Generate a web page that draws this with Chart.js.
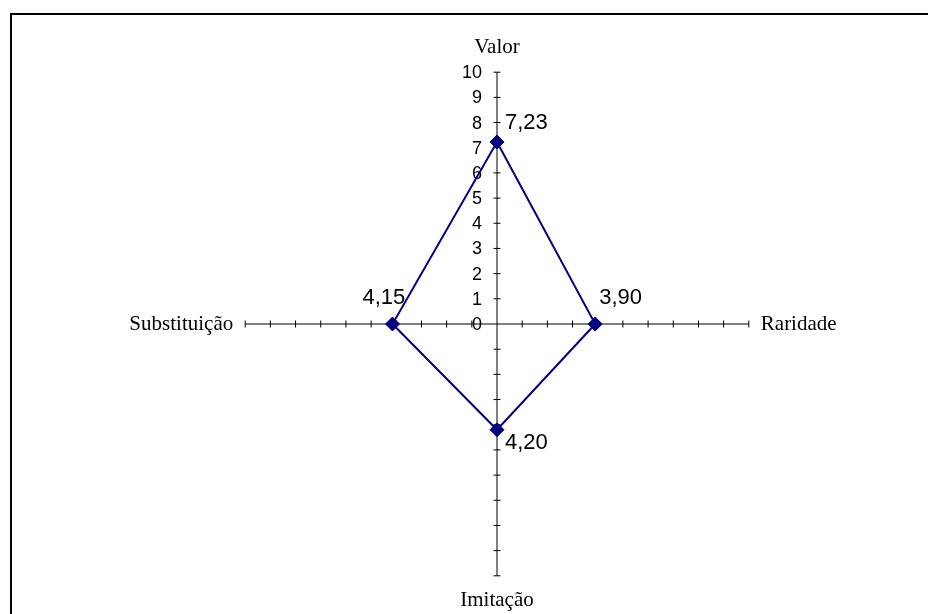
<!DOCTYPE html>
<html>
<head>
<meta charset="utf-8">
<script src="https://cdn.jsdelivr.net/npm/chart.js@4.4.1/dist/chart.umd.min.js"></script>
<style>
  html, body { margin: 0; padding: 0; background: #fff; overflow: hidden; }
  #frame { position: absolute; left: 10px; top: 13px; width: 1000px; height: 700px;
           border-left: 2px solid #000; border-top: 2px solid #000; }
  #chart { position: absolute; left: 0; top: 0; }
</style>
</head>
<body>
<div id="frame"></div>
<canvas id="chart" width="928" height="614"></canvas>
<script>
const axes = ['Valor', 'Raridade', 'Imitação', 'Substituição'];
const scores = [7.23, 3.90, 4.20, 4.15];
const tickValues = [0, 1, 2, 3, 4, 5, 6, 7, 8, 9, 10];

// where each value label sits relative to its point
const labelOffsets = [
  { dx: 8, dy: -19 },
  { dx: 4, dy: -26 },
  { dx: 8, dy: 13 },
  { dx: -30, dy: -26 }
];

const axisTicks = {
  id: 'axisTicks',
  beforeDatasetsDraw(chart) {
    const scale = chart.scales.r;
    const ctx = chart.ctx;
    ctx.save();
    ctx.strokeStyle = '#000';
    ctx.lineWidth = 1;
    for (let i = 0; i < axes.length; i++) {
      const a = scale.getIndexAngle(i) - Math.PI / 2;
      const px = -Math.sin(a), py = Math.cos(a);
      tickValues.forEach(v => {
        if (v === 0) return;
        const p = scale.getPointPosition(i, scale.getDistanceFromCenterForValue(v));
        ctx.beginPath();
        ctx.moveTo(p.x - px * 3.5, p.y - py * 3.5);
        ctx.lineTo(p.x + px * 3.5, p.y + py * 3.5);
        ctx.stroke();
      });
    }
    ctx.fillStyle = '#000';
    ctx.font = '18px "Liberation Sans", Arial, sans-serif';
    ctx.textAlign = 'right';
    ctx.textBaseline = 'middle';
    tickValues.forEach(v => {
      const p = scale.getPointPosition(0, scale.getDistanceFromCenterForValue(v));
      ctx.fillText(String(v), p.x - 15, p.y + 1);
    });
    ctx.restore();
  },
  afterDatasetsDraw(chart) {
    const meta = chart.getDatasetMeta(0);
    const ctx = chart.ctx;
    ctx.save();
    ctx.fillStyle = '#000';
    ctx.font = '22px "Liberation Sans", Arial, sans-serif';
    ctx.textAlign = 'left';
    ctx.textBaseline = 'middle';
    meta.data.forEach((pt, i) => {
      const o = labelOffsets[i];
      ctx.fillText(scores[i].toFixed(2).replace('.', ','), pt.x + o.dx, pt.y + o.dy);
    });
    ctx.restore();
  }
};

new Chart(document.getElementById('chart'), {
  type: 'radar',
  data: {
    labels: axes,
    datasets: [{
      data: scores,
      borderColor: '#000080',
      borderWidth: 2,
      fill: false,
      pointStyle: 'rectRot',
      pointRadius: 7,
      pointBackgroundColor: '#000080',
      pointBorderColor: '#000080',
      pointBorderWidth: 1
    }]
  },
  options: {
    responsive: false,
    animation: false,
    layout: { padding: { left: 66, top: 36, bottom: 0, right: 0 } },
    plugins: { legend: { display: false }, tooltip: { enabled: false } },
    scales: {
      r: {
        min: 0,
        max: 10,
        ticks: { display: false, stepSize: 1 },
        grid: { display: false },
        angleLines: { display: true, color: '#000', lineWidth: 1 },
        pointLabels: {
          display: true,
          padding: 12,
          color: '#000',
          font: { family: '"Liberation Serif", "Times New Roman", serif', size: 21 }
        }
      }
    }
  },
  plugins: [axisTicks]
});
</script>
</body>
</html>
